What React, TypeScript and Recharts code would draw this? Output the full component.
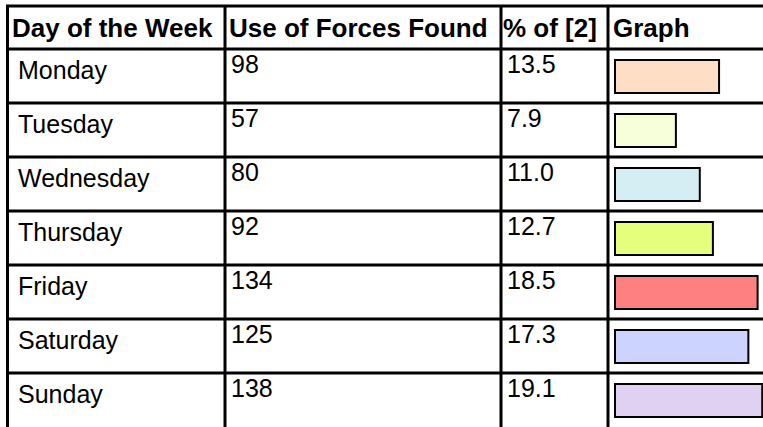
import { BarChart, Bar, XAxis, YAxis, Cell } from 'recharts';

const days = ['Monday', 'Tuesday', 'Wednesday', 'Thursday', 'Friday', 'Saturday', 'Sunday'];
const forcesFound = [98, 57, 80, 92, 134, 125, 138];
const percentOfTotal = [13.5, 7.9, 11.0, 12.7, 18.5, 17.3, 19.1];
const barColors = ['#ffdec6', '#f6ffd9', '#d5eef3', '#e5ff7c', '#ff8080', '#ccd3ff', '#e0d1f3'];
const headers = ['Day of the Week', 'Use of Forces Found', '% of [2]', 'Graph'];

const data = days.map((day, i) => ({ day, found: forcesFound[i], pct: percentOfTotal[i] }));

const W = 763;
const H = 427;
const TOP = 49;
const ROW_H = 54;
const GRAPH_X = 615;
const colLines = [7.5, 225, 501, 608];
const colText = [18, 231, 507];
const headerText = [12, 229, 503, 613];
const FONT = '"Liberation Sans", Arial, sans-serif';

// one tick per day row: draws the table cells to the left of the bar
function RowTick(props: any) {
    const { y, index } = props;
    const top = y - ROW_H / 2;
    return (
        <g fontFamily={FONT} fill="#000">
            {index === 0 && (
                <g>
                    <line x1={6} x2={W} y1={6} y2={6} stroke="#000" strokeWidth={3} />
                    {colLines.map((cx) => (
                        <line key={cx} x1={cx} x2={cx} y1={6} y2={top} stroke="#000" strokeWidth={3} />
                    ))}
                    {headers.map((h, j) => (
                        <text key={h} x={headerText[j]} y={37} fontSize={26} fontWeight={700}>{h}</text>
                    ))}
                </g>
            )}
            <line x1={6} x2={W} y1={top} y2={top} stroke="#000" strokeWidth={3} />
            {colLines.map((cx) => (
                <line key={cx} x1={cx} x2={cx} y1={top} y2={top + ROW_H} stroke="#000" strokeWidth={3} />
            ))}
            <text x={colText[0]} y={top + 30} fontSize={25}>{days[index]}</text>
            <text x={colText[1]} y={top + 24} fontSize={25}>{forcesFound[index]}</text>
            <text x={colText[2]} y={top + 24} fontSize={25}>{percentOfTotal[index].toFixed(1)}</text>
        </g>
    );
}

export default function App() {
    return (
        <div style={{ position: 'absolute', left: 0, top: 0, width: W, height: H, background: '#fff' }}>
            <BarChart width={W} height={H} data={data} layout="vertical" margin={{ top: TOP, right: 0, bottom: 0, left: 0 }}>
                <XAxis type="number" domain={[0, 19.2]} hide />
                <YAxis
                    type="category"
                    dataKey="day"
                    width={GRAPH_X}
                    interval={0}
                    axisLine={false}
                    tickLine={false}
                    tick={<RowTick />}
                />
                <Bar dataKey="pct" barSize={33} stroke="#000" strokeWidth={2} isAnimationActive={false}>
                    {data.map((d, i) => (
                        <Cell key={d.day} fill={barColors[i]} />
                    ))}
                </Bar>
            </BarChart>
        </div>
    );
}
